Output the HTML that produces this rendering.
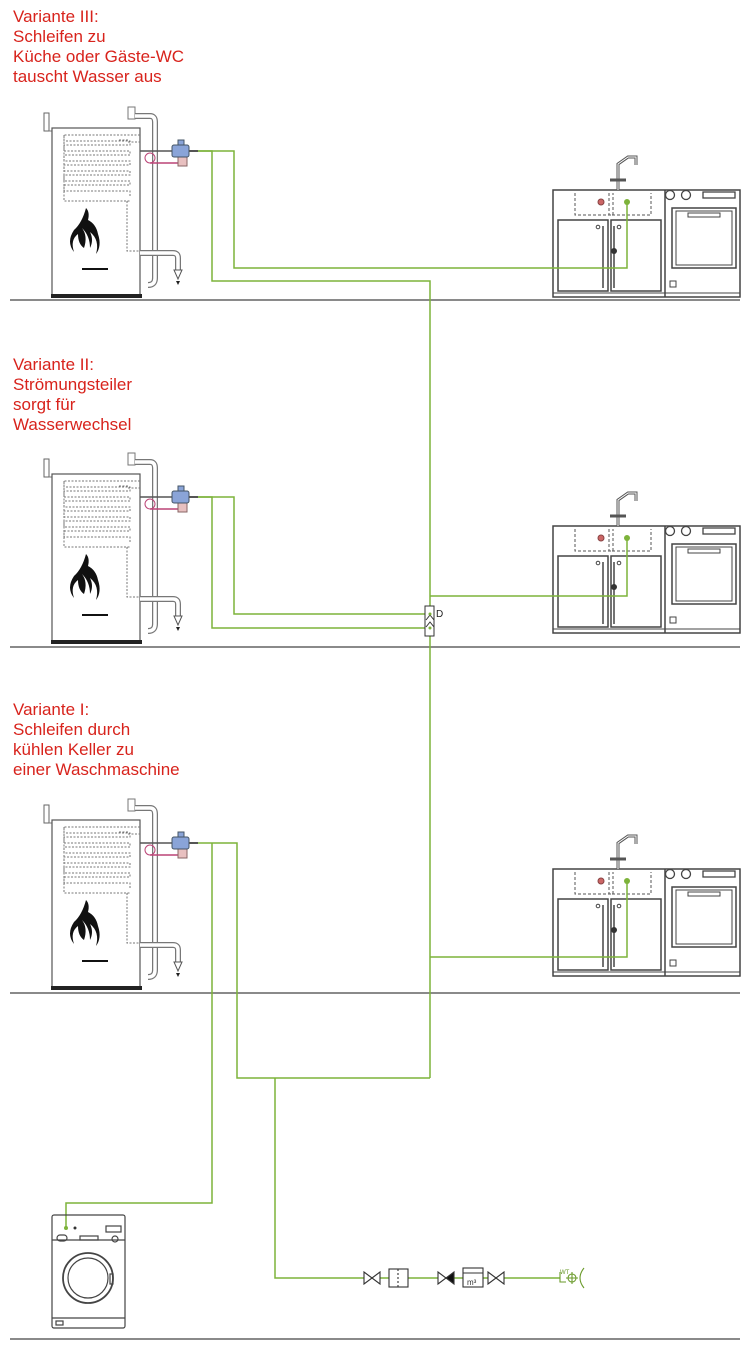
<!DOCTYPE html>
<html><head><meta charset="utf-8"><style>
body{margin:0;background:#fff;width:750px;height:1353px;overflow:hidden;position:relative}
.t{position:absolute;left:13px;color:#d8231c;font-family:"Liberation Sans",sans-serif;font-size:17px;line-height:20px}
svg{position:absolute;left:0;top:0}
</style></head><body>
<div class="t" style="top:7px">Variante III:<br>Schleifen zu<br>Küche oder Gäste-WC<br>tauscht Wasser aus</div>
<div class="t" style="top:355px">Variante II:<br>Strömungsteiler<br>sorgt für<br>Wasserwechsel</div>
<div class="t" style="top:700px">Variante I:<br>Schleifen durch<br>kühlen Keller zu<br>einer Waschmaschine</div>
<svg width="750" height="1353" viewBox="0 0 750 1353">
<defs>
<g id="boiler">
 <rect x="44" y="113" width="5" height="18" fill="#fff" stroke="#666"/>
 <line x1="49" y1="131" x2="60" y2="131" stroke="#777"/>
 <rect x="52" y="128" width="88" height="168" fill="#fff" stroke="#555" stroke-width="1.2"/>
 <rect x="51" y="294" width="91" height="4" fill="#222"/>
 <path d="M140 135 H64 v6 H130 v4 H64 v6 H130 v4 H64 v6 H130 v4 H64 v6 H130 v4 H64 v6 H130 v4 H64 v6 H130 v6 M64 135 v66 H130 M127 201 v50 H142" fill="none" stroke="#777" stroke-width="1" stroke-dasharray="2,1.5"/>
 <path d="M128 142 h12 M119 140 h10" stroke="#777" stroke-dasharray="2,1.5"/>
 <rect x="128" y="107" width="7" height="12" fill="#fff" stroke="#777"/>
 <path d="M135 116 H150 Q155 116 155 122 V278 Q155 285 148 285" fill="none" stroke="#777" stroke-width="6"/>
 <path d="M135 116 H150 Q155 116 155 122 V278 Q155 285 148 285" fill="none" stroke="#fff" stroke-width="3.5"/>
 <path d="M140 253 H173 Q178 253 178 258 V270" fill="none" stroke="#777" stroke-width="6"/>
 <path d="M140 253 H173 Q178 253 178 258 V270" fill="none" stroke="#fff" stroke-width="3.5"/>
 <path d="M174 270 h8 l-4 9 z" fill="#fff" stroke="#555"/>
 <path d="M176 281 l2 4 l2 -4z" fill="#222"/>
 <line x1="140" y1="151" x2="173" y2="151" stroke="#555" stroke-width="1.5"/>
 <circle cx="150" cy="158" r="5" fill="none" stroke="#b47"/>
 <path d="M150 163 H178" stroke="#b47" stroke-width="1.5"/>
 <rect x="178" y="156" width="9" height="10" fill="#e8c0c0" stroke="#866"/>
 <rect x="178" y="140" width="6" height="6" fill="#8aa4d8" stroke="#456"/>
 <rect x="172" y="145" width="17" height="12" rx="2" fill="#8aa4d8" stroke="#456"/>
 <line x1="189" y1="151" x2="198" y2="151" stroke="#555" stroke-width="2"/>
 <path d="M86 208 q-4 15 -12 22 q-8 12 0 22 q-4 -12 4 -18 q0 10 6 14 q4 -12 -2 -20 q8 8 8 20 q4 -8 0 -16 q10 8 6 22 q6 -8 2 -20 q-2 -10 -10 -14 q2 -8 -2 -12z" fill="#111"/>
 <rect x="82" y="268" width="26" height="2" fill="#111"/>
</g>
<g id="kitchen">
 <rect x="553" y="190" width="187" height="107" fill="#fff" stroke="#444" stroke-width="1.5"/>
 <line x1="665" y1="190" x2="665" y2="297" stroke="#444" stroke-width="1.5"/>
 <line x1="553" y1="293" x2="740" y2="293" stroke="#444"/>
 <path d="M575 193 v22 h38 v-22 M609 193 v22 h42 v-22" fill="none" stroke="#555" stroke-dasharray="3,2"/>
 <rect x="558" y="220" width="50" height="71" fill="none" stroke="#444" stroke-width="1.5"/>
 <rect x="611" y="220" width="50" height="71" fill="none" stroke="#444" stroke-width="1.5"/>
 <line x1="603" y1="226" x2="603" y2="288" stroke="#444" stroke-width="1.5"/>
 <line x1="614" y1="226" x2="614" y2="288" stroke="#444" stroke-width="1.5"/>
 <circle cx="598" cy="227" r="1.8" fill="none" stroke="#444"/>
 <circle cx="619" cy="227" r="1.8" fill="none" stroke="#444"/>
 <path d="M618 190 v-8 m0 0 v-18 l10 -7 h8 v8" fill="none" stroke="#555" stroke-width="3"/>
 <path d="M618 190 v-8 m0 0 v-18 l10 -7 h8 v8" fill="none" stroke="#fff" stroke-width="1"/>
 <path d="M610 180 h16" stroke="#555" stroke-width="3"/>
 <circle cx="601" cy="202" r="3" fill="#c66" stroke="#844"/>
 <circle cx="614" cy="251" r="3" fill="#333"/>
 <circle cx="670" cy="195" r="4.5" fill="none" stroke="#444" stroke-width="1.3"/>
 <circle cx="686" cy="195" r="4.5" fill="none" stroke="#444" stroke-width="1.3"/>
 <rect x="703" y="192" width="32" height="6" fill="none" stroke="#444" stroke-width="1.3"/>
 <rect x="672" y="208" width="64" height="60" fill="none" stroke="#444" stroke-width="1.5"/>
 <rect x="676" y="211" width="56" height="54" fill="none" stroke="#444"/>
 <rect x="688" y="213" width="32" height="4" fill="none" stroke="#444"/>
 <rect x="670" y="281" width="6" height="6" fill="none" stroke="#444"/>
</g>
</defs>
<g stroke="#444" stroke-width="1.2">
 <line x1="10" y1="300" x2="740" y2="300"/>
 <line x1="10" y1="647" x2="740" y2="647"/>
 <line x1="10" y1="993" x2="740" y2="993"/>
 <line x1="10" y1="1339" x2="740" y2="1339"/>
</g>
<use href="#boiler"/>
<use href="#boiler" transform="translate(0,346)"/>
<use href="#boiler" transform="translate(0,692)"/>
<use href="#kitchen"/>
<use href="#kitchen" transform="translate(0,336)"/>
<use href="#kitchen" transform="translate(0,679)"/>
<g fill="none" stroke="#7db33a" stroke-width="1.5">
 <path d="M198 151 H234 V268 H627 V202"/>
 <path d="M198 151 H212 V281 H430 V1078"/>
 <path d="M198 497 H234 V614 H430"/>
 <path d="M198 497 H212 V628 H430"/>
 <path d="M430 596 H627 V538"/>
 <path d="M198 843 H237 V1078 H430"/>
 <path d="M212 843 V1203 H66 V1228"/>
 <path d="M430 957 H627 V881"/>
 <path d="M275 1078 V1278 H560"/>
</g>
<g fill="#7db33a"><circle cx="627" cy="202" r="3"/><circle cx="627" cy="538" r="3"/><circle cx="627" cy="881" r="3"/><circle cx="66" cy="1228" r="2"/></g>
<rect x="425" y="606" width="9" height="30" fill="#fff" stroke="#333"/>
<path d="M426 620 l4 -5 l4 5 M426 627 l4 -5 l4 5" fill="none" stroke="#333"/>
<circle cx="430" cy="614" r="1.5" fill="#7db33a"/><circle cx="430" cy="628" r="1.5" fill="#7db33a"/>
<text x="436" y="617" font-family="Liberation Sans,sans-serif" font-size="10" fill="#222">D</text>
<g fill="#fff" stroke="#333" stroke-width="1.1">
 <path d="M364 1272 v12 l16 -12 v12 z"/>
 <rect x="389" y="1269" width="19" height="18"/>
 <line x1="398" y1="1269" x2="398" y2="1287" stroke-dasharray="2,2"/>
 <path d="M438 1272 v12 l8 -6 z"/>
 <path d="M454 1272 v12 l-8 -6 z" fill="#111"/>
 <rect x="463" y="1268" width="20" height="19"/>
 <line x1="463" y1="1273" x2="483" y2="1273"/>
 <path d="M488 1272 v12 l16 -12 v12 z"/>
</g>
<text x="467" y="1285" font-family="Liberation Sans,sans-serif" font-size="8" fill="#333">m³</text>
<g fill="none" stroke="#6a9a2a" stroke-width="1.1">
 <path d="M560 1272 v10 h6"/>
 <circle cx="572" cy="1278" r="4"/>
 <path d="M566 1278 h12 M572 1272 v12"/>
 <path d="M584 1268 q-8 10 0 20"/>
</g>
<text x="560" y="1274" font-family="Liberation Sans,sans-serif" font-size="6" fill="#6a9a2a">WT</text>
<g fill="none" stroke="#444" stroke-width="1.2">
 <rect x="52" y="1215" width="73" height="113" rx="2"/>
 <line x1="52" y1="1240" x2="125" y2="1240"/>
 <line x1="52" y1="1318" x2="125" y2="1318"/>
 <rect x="57" y="1235" width="10" height="6" rx="3"/>
 <rect x="106" y="1226" width="15" height="6"/>
 <rect x="80" y="1236" width="18" height="4"/>
 <circle cx="115" cy="1239" r="3"/>
 <circle cx="88" cy="1278" r="25" stroke-width="1.8"/>
 <circle cx="88" cy="1278" r="20"/>
 <rect x="110" y="1274" width="3" height="10"/>
 <rect x="56" y="1321" width="7" height="4"/>
</g>
<circle cx="75" cy="1228" r="1.5" fill="#333"/>
</svg>
</body></html>
